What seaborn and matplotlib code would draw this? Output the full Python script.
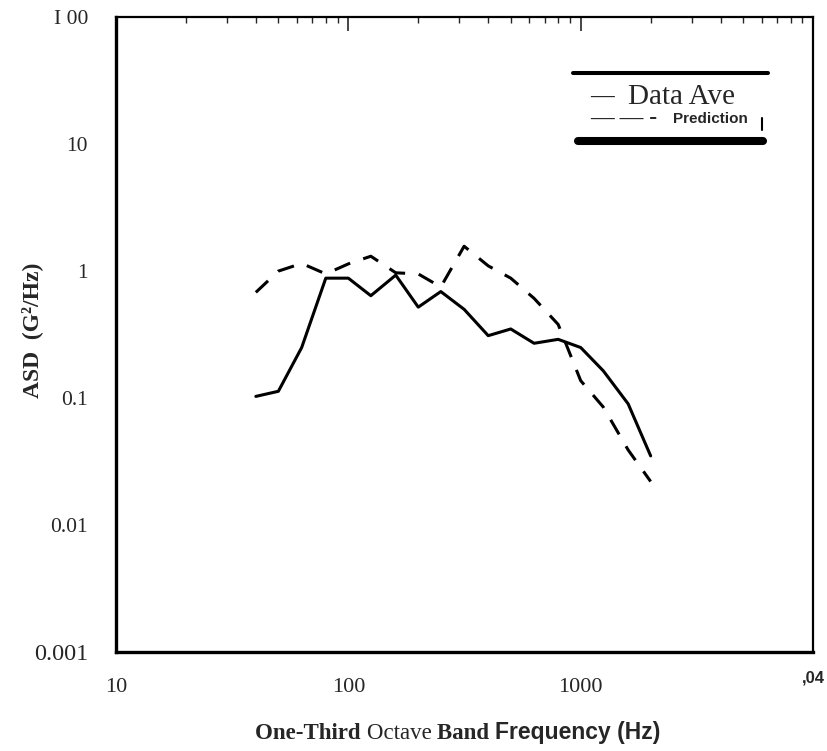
import numpy as np
import pandas as pd
import matplotlib.pyplot as plt
import seaborn as sns
from matplotlib.offsetbox import TextArea, HPacker, AnchoredOffsetbox

# one-third octave band centres (Hz)
freq = [40, 50, 63, 80, 100, 125, 160, 200, 250, 315, 400, 500, 630, 800,
        1000, 1250, 1600, 2000]
data_ave = [0.103, 0.113, 0.25, 0.88, 0.88, 0.64, 0.93, 0.52, 0.69, 0.50,
            0.31, 0.35, 0.27, 0.29, 0.25, 0.164, 0.09, 0.035]
prediction = [0.68, 1.0, 1.15, 0.95, 1.14, 1.31, 0.97, 0.95, 0.75, 1.57,
              1.1, 0.88, 0.61, 0.38, 0.137, 0.085, 0.039, 0.022]

xticks = [10, 100, 1000, 10000]
xtick_labels = ["10", "100", "1000", ",04"]
yticks = [0.001, 0.01, 0.1, 1, 10, 100]
ytick_labels = ["0.001", "0.01", "0.1", "1", "10", "I 00"]

df = pd.DataFrame({
    "freq": freq * 2,
    "asd": data_ave + prediction,
    "series": ["Data Ave"] * len(freq) + ["Prediction"] * len(freq),
})

sns.set_style("white")
plt.rcParams["font.family"] = ["Liberation Serif", "DejaVu Serif"]

fig = plt.figure(figsize=(8.28, 7.51), dpi=100)
ax = fig.add_axes([0.140, 0.132, 0.842, 0.845])

sns.lineplot(data=df, x="freq", y="asd", style="series",
             dashes={"Data Ave": "", "Prediction": (5.5, 4.5)},
             color="black", linewidth=2.2, legend=False, ax=ax)

ax.set_xscale("log")
ax.set_yscale("log")
ax.set_xlim(10, 10000)
ax.set_ylim(0.001, 100)

ax.set_xticks(xticks)
ax.set_xticklabels(xtick_labels, fontsize=16)
ax.set_yticks(yticks)
ax.set_yticklabels(ytick_labels, fontsize=15.5)
for lbl in ax.get_yticklabels():
    if lbl.get_text() == "0.001":
        lbl.set_fontsize(17.5)
for lbl in ax.get_xticklabels():
    if lbl.get_text() == ",04":
        lbl.set_fontfamily("Liberation Sans")
        lbl.set_fontweight("bold")
        lbl.set_fontsize(12)
        lbl.set_y(0.013)

ax.tick_params(axis="x", which="major", direction="in", length=10, width=1.2,
               pad=19, top=True)
ax.tick_params(axis="x", which="minor", direction="in", length=4, width=1.0,
               top=True)
ax.tick_params(axis="y", which="major", direction="in", length=0, pad=20)
ax.tick_params(axis="y", which="minor", left=False)

for side, lw in [("left", 2.4), ("bottom", 2.4), ("top", 1.6), ("right", 1.6)]:
    ax.spines[side].set_linewidth(lw)
    ax.spines[side].set_color("black")

ax.set_xlabel("")
ax.set_ylabel("ASD  (G\u00b2/Hz)", fontsize=17, fontweight="bold")
ax.yaxis.set_label_coords(-0.104, 0.507)

# legend block: thick rules above and below, entries written as text
ax.plot([0.656, 0.935], [0.912, 0.912], transform=ax.transAxes,
        color="black", lw=2.9, clip_on=False)
ax.plot([0.663, 0.928], [0.805, 0.805], transform=ax.transAxes,
        color="black", lw=5.8, clip_on=False)
ax.plot([0.927, 0.927], [0.822, 0.841], transform=ax.transAxes,
        color="black", lw=1.5, clip_on=False)
fig.text(590 / 828, 1 - 97 / 751, "\u2014", fontsize=17, weight="bold",
         family="Liberation Serif", va="center")
fig.text(628 / 828, 1 - 97 / 751, "Data Ave", fontsize=21,
         family="Liberation Serif", va="center")
fig.text(590 / 828, 1 - 119 / 751, "\u2014 \u2014 -", fontsize=17,
         weight="bold", family="Liberation Serif", va="center")
fig.text(673 / 828, 1 - 119 / 751, "Prediction", fontsize=11,
         family="Liberation Sans", weight="bold", va="center")

# x label made of mixed type faces, as in the scan
parts = [
    TextArea("One-Third ", textprops=dict(family="Liberation Serif",
                                           weight="bold", size=16.5)),
    TextArea("Octave ", textprops=dict(family="Liberation Serif", size=16.5)),
    TextArea("Band ", textprops=dict(family="Liberation Serif",
                                      weight="bold", size=16.5)),
    TextArea("Frequency (Hz)", textprops=dict(family="Liberation Sans",
                                               weight="bold", size=16.5)),
]
box = HPacker(children=parts, align="baseline", pad=0, sep=0)
anchored = AnchoredOffsetbox(loc="center", child=box, frameon=False,
                             bbox_to_anchor=(0.553, 0.025),
                             bbox_transform=fig.transFigure, borderpad=0)
fig.add_artist(anchored)

fig.savefig("out.png", dpi=100)
